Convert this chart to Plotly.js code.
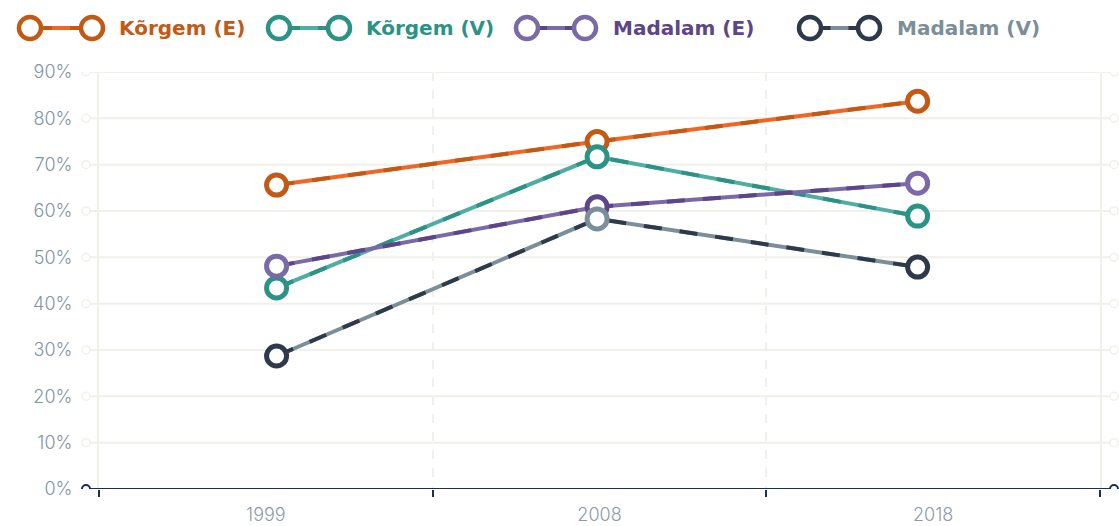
<!DOCTYPE html>
<html>
<head>
<meta charset="utf-8">
<script src="https://cdn.plot.ly/plotly-3.0.1.min.js"></script>
<style>html,body{margin:0;padding:0;background:#fff}#chart{width:1119px;height:526px}</style>
</head>
<body>
<div id="chart"></div>
<script>
const years = ['1999', '2008', '2018'];
const seriesNames = ['Kõrgem (E)', 'Kõrgem (V)', 'Madalam (E)', 'Madalam (V)'];
const korgemE = [0.656, 0.750, 0.837];
const korgemV = [0.434, 0.717, 0.589];
const madalamE = [0.481, 0.609, 0.660];
const madalamV = [0.287, 0.583, 0.479];
const yTicks = [0, 0.1, 0.2, 0.3, 0.4, 0.5, 0.6, 0.7, 0.8, 0.9];
const yTickLabels = ['0%', '10%', '20%', '30%', '40%', '50%', '60%', '70%', '80%', '90%'];

const seriesValues = [korgemE, korgemV, madalamE, madalamV];
const styles = [
  {base: '#f26522', dash: '#c25a16', marker: ['#c25a16', '#c25a16', '#c25a16'], text: '#c25a16'},
  {base: '#4fada3', dash: '#2a9386', marker: ['#2a9386', '#2a9386', '#2a9386'], text: '#2a9386'},
  {base: '#7a6aa8', dash: '#5d4589', marker: ['#7a6aa8', '#5d4589', '#7a6aa8'], text: '#5d4589'},
  {base: '#7a8f9a', dash: '#2e3a4b', marker: ['#2e3a4b', '#7a8f9a', '#2e3a4b'], text: '#7a8f9a'}
];

const traces = [];
// invisible trace to give the category axis its categories
traces.push({x: years, y: korgemE, xaxis: 'x', type: 'scatter', mode: 'none', showlegend: false, hoverinfo: 'skip'});
seriesValues.forEach((vals, i) => {
  const s = styles[i];
  traces.push({x: years, y: vals, xaxis: 'x2', type: 'scatter', mode: 'lines', showlegend: false, hoverinfo: 'skip',
    line: {color: s.base, width: 4}});
  traces.push({x: years, y: vals, xaxis: 'x2', type: 'scatter', mode: 'lines+markers', name: seriesNames[i], showlegend: false,
    line: {color: s.dash, width: 4, dash: '18px,18px'},
    marker: {symbol: 'circle', size: 20, color: '#fff', line: {color: s.marker, width: 5}}});
});

// plot area in pixels
const L = 99, R = 1100, T = 72, B = 489;
const px = v => (v - L) / (R - L);
const py = v => (B - v) / (B - T);

const shapes = [];
const annotations = [];
yTicks.forEach((t, k) => {
  const zero = k === 0;
  const col = zero ? '#1b2f55' : '#f1f0ea';
  shapes.push({type: 'line', xref: 'paper', yref: 'y', x0: px(90), x1: px(1110), y0: t, y1: t,
    line: {color: col, width: 2}, layer: zero ? 'above' : 'below'});
  [86, 1114].forEach(cx => {
    shapes.push({type: 'circle', xref: 'paper', yref: 'y', xsizemode: 'pixel', ysizemode: 'pixel',
      xanchor: px(cx), yanchor: t, x0: -4, x1: 4, y0: -4, y1: 4,
      fillcolor: '#fff', line: {color: col, width: zero ? 2 : 1.5}, layer: 'above'});
  });
});

// custom legend
const legendPos = [
  {c1: 30, c2: 92, tx: 117},
  {c1: 279, c2: 339, tx: 364},
  {c1: 527, c2: 585, tx: 611},
  {c1: 810, c2: 869, tx: 895}
];
const ly = py(28);
legendPos.forEach((p, i) => {
  const s = styles[i];
  shapes.push({type: 'line', xref: 'paper', yref: 'paper', x0: px(p.c1), x1: px(p.c2), y0: ly, y1: ly,
    line: {color: s.dash, width: 4}});
  shapes.push({type: 'line', xref: 'paper', yref: 'paper', x0: px((p.c1 + p.c2) / 2 - 9), x1: px((p.c1 + p.c2) / 2 + 9), y0: ly, y1: ly,
    line: {color: s.base, width: 4}});
  [p.c1, p.c2].forEach(cx => {
    shapes.push({type: 'circle', xref: 'paper', yref: 'paper', xsizemode: 'pixel', ysizemode: 'pixel',
      xanchor: px(cx), yanchor: ly, x0: -11, x1: 11, y0: -11, y1: 11,
      fillcolor: '#fff', line: {color: s.marker[0], width: 4.5}});
  });
  annotations.push({xref: 'paper', yref: 'paper', x: px(p.tx), y: ly, xanchor: 'left', yanchor: 'middle',
    text: '<b>' + seriesNames[i] + '</b>', showarrow: false,
    font: {family: '"DejaVu Sans", sans-serif', size: 20, color: s.text}});
});

const layout = {
  width: 1119, height: 526,
  margin: {l: L, r: 1119 - R, t: T, b: 526 - B, pad: 0},
  paper_bgcolor: '#fff', plot_bgcolor: '#fff',
  showlegend: false,
  font: {family: 'Inter, "Open Sans", sans-serif', color: '#7f95a3'},
  xaxis: {type: 'category', categoryorder: 'array', categoryarray: years, range: [-0.5, 2.5], tickson: 'boundaries', ticks: 'outside', ticklen: 7, tickwidth: 2,
    tickcolor: '#1b2f55', showgrid: true, gridcolor: '#f1f0ea', gridwidth: 2, griddash: 'dash',
    showline: false, zeroline: false, fixedrange: true,
    tickfont: {size: 18, color: '#8a9ba8', weight: 300}, ticklabelstandoff: 13},
  xaxis2: {type: 'category', categoryorder: 'array', categoryarray: years, overlaying: 'x', range: [-0.554, 2.569], visible: false, fixedrange: true},
  yaxis: {range: [0, 0.9], tickvals: yTicks, ticktext: yTickLabels, showgrid: false, zeroline: false,
    showline: true, mirror: true, linecolor: '#f1f0ea', linewidth: 2,
    ticks: '', ticklabelstandoff: 21, tickfont: {size: 18, color: '#7f95a3', weight: 300}, fixedrange: true},
  shapes: shapes,
  annotations: annotations
};

Plotly.newPlot('chart', traces, layout, {displayModeBar: false, staticPlot: true});
</script>
</body>
</html>
